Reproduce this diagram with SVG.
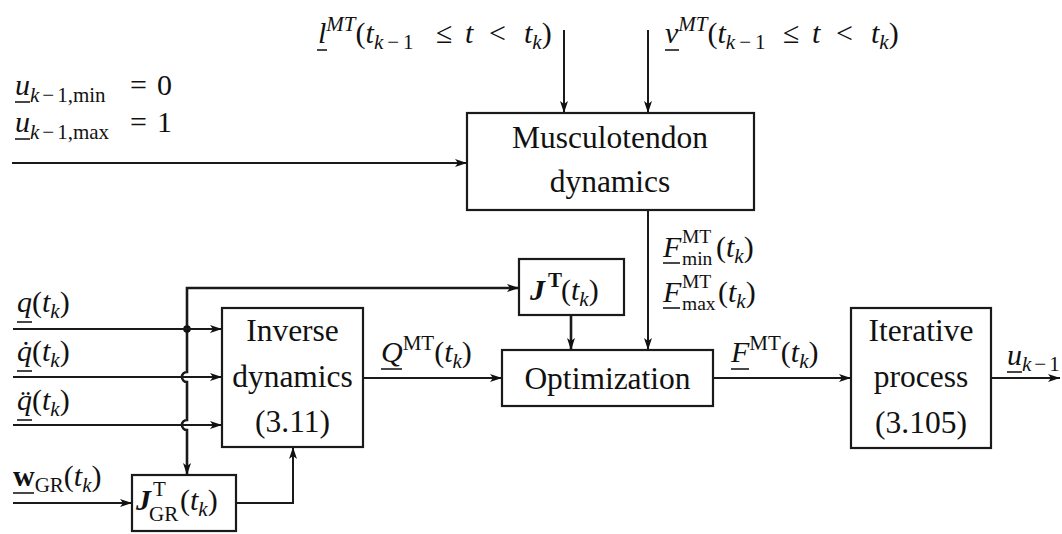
<svg xmlns="http://www.w3.org/2000/svg" width="1062" height="534" viewBox="0 0 1062 534">
<defs>
<marker id="ah" viewBox="0 0 12 8" refX="12" refY="4" markerWidth="12" markerHeight="8" markerUnits="userSpaceOnUse" orient="auto">
<path d="M0,0 L12,4 L0,8 L3,4 z" fill="#111"/>
</marker>
<style>
.box{fill:none;stroke:#1a1a1a;stroke-width:2.2}
.ln{fill:none;stroke:#1a1a1a;stroke-width:2}
.bus{fill:none;stroke:#1a1a1a;stroke-width:2.6}
.ul{stroke:#1a1a1a;stroke-width:1.6}
.t{font-family:'Liberation Serif','Times New Roman','DejaVu Serif',serif;font-size:30px;fill:#111}
.bt{font-size:31.5px}
.i{font-style:italic}
.s{font-size:21px}
.ss{font-size:19.5px}
.bi{font-weight:bold;font-style:italic}
.b{font-weight:bold}
</style>
</defs>
<rect width="1062" height="534" fill="#fff"/>

<g id="connectors">
<path class="ln" d="M564,30 V113" marker-end="url(#ah)"/>
<path class="ln" d="M648,30 V113" marker-end="url(#ah)"/>
<path class="ln" d="M12,163 H467" marker-end="url(#ah)"/>
<path class="ln" d="M648,210 V350" marker-end="url(#ah)"/>
<path class="bus" d="M571,315 V350" marker-end="url(#ah)"/>
<path class="bus" d="M187,329 V288 H519" marker-end="url(#ah)"/>
<path class="bus" d="M187,329 V372 a5,5 0 0 0 0,10 V420 a5,5 0 0 0 0,10 V475" marker-end="url(#ah)"/>
<circle cx="187" cy="329" r="3.8" fill="#111"/>
<path class="ln" d="M13,329 H222" marker-end="url(#ah)"/>
<path class="ln" d="M13,377 H222" marker-end="url(#ah)"/>
<path class="ln" d="M13,425 H222" marker-end="url(#ah)"/>
<path class="ln" d="M13,503 H132" marker-end="url(#ah)"/>
<path class="ln" d="M236,503 H293 V447" marker-end="url(#ah)"/>
<path class="ln" d="M363,378 H502" marker-end="url(#ah)"/>
<path class="ln" d="M713,378 H851" marker-end="url(#ah)"/>
<path class="ln" d="M991,378 H1060" marker-end="url(#ah)"/>
</g>

<g id="musculotendon">
<rect class="box" x="467" y="113" width="287" height="97"/>
<text class="t bt" x="610" y="148" text-anchor="middle">Musculotendon</text>
<text class="t bt" x="610" y="192" text-anchor="middle">dynamics</text>
</g>

<g id="jt">
<rect class="box" x="519" y="259" width="105" height="56"/>
<text class="t"><tspan class="bi" x="530" y="300">J</tspan><tspan class="s b" x="548" y="287">T</tspan><tspan x="561" y="300">(</tspan><tspan class="i">t</tspan><tspan class="s i" dy="6">k</tspan><tspan dy="-6">)</tspan></text>
</g>

<g id="optimization">
<rect class="box" x="502" y="350" width="211" height="56"/>
<text class="t bt" x="607.5" y="389" text-anchor="middle">Optimization</text>
</g>

<g id="inverse">
<rect class="box" x="222" y="308" width="141" height="139"/>
<text class="t bt" x="292.5" y="341" text-anchor="middle">Inverse</text>
<text class="t bt" x="292.5" y="387" text-anchor="middle">dynamics</text>
<text class="t bt" x="292.5" y="432" text-anchor="middle">(3.11)</text>
</g>

<g id="iterative">
<rect class="box" x="851" y="308" width="140" height="140"/>
<text class="t bt" x="921" y="341" text-anchor="middle">Iterative</text>
<text class="t bt" x="921" y="387" text-anchor="middle">process</text>
<text class="t bt" x="921" y="433" text-anchor="middle">(3.105)</text>
</g>

<g id="jgr">
<rect class="box" x="132" y="475" width="104" height="56"/>
<text class="t"><tspan class="bi" x="136" y="510">J</tspan><tspan class="s" x="153" y="496">T</tspan><tspan class="s" x="149" y="521">GR</tspan><tspan x="180" y="510">(</tspan><tspan class="i">t</tspan><tspan class="s i" dy="6">k</tspan><tspan dy="-6">)</tspan></text>
</g>

<g id="labels">
<text class="t"><tspan class="i" x="318" y="43">l</tspan><tspan class="s i" dy="-12">MT</tspan><tspan dy="12">(</tspan><tspan class="i">t</tspan><tspan class="s i" dy="6">k</tspan><tspan class="s" dx="4">−</tspan><tspan class="s" dx="4">1</tspan><tspan x="436" y="43">≤</tspan><tspan class="i" x="465">t</tspan><tspan x="489">&lt;</tspan><tspan class="i" x="524">t</tspan><tspan class="s i" dy="6">k</tspan><tspan dy="-6">)</tspan></text>
<line class="ul" x1="317" y1="50" x2="327" y2="50"/>
<text class="t"><tspan class="i" x="665" y="43">v</tspan><tspan class="s i" dy="-12">MT</tspan><tspan dy="12">(</tspan><tspan class="i">t</tspan><tspan class="s i" dy="6">k</tspan><tspan class="s" dx="4">−</tspan><tspan class="s" dx="4">1</tspan><tspan x="783" y="43">≤</tspan><tspan class="i" x="812">t</tspan><tspan x="836">&lt;</tspan><tspan class="i" x="871">t</tspan><tspan class="s i" dy="6">k</tspan><tspan dy="-6">)</tspan></text>
<line class="ul" x1="665" y1="50" x2="679" y2="50"/>
<text class="t"><tspan class="i" x="15" y="95">u</tspan><tspan class="s i" dy="7">k</tspan><tspan class="s" dx="3">−</tspan><tspan class="s" dx="3">1,min</tspan><tspan x="130" y="95">=</tspan><tspan x="157">0</tspan></text>
<line class="ul" x1="15" y1="102" x2="30" y2="102"/>
<text class="t"><tspan class="i" x="15" y="132">u</tspan><tspan class="s i" dy="7">k</tspan><tspan class="s" dx="3">−</tspan><tspan class="s" dx="3">1,max</tspan><tspan x="130" y="132">=</tspan><tspan x="157">1</tspan></text>
<line class="ul" x1="15" y1="139" x2="30" y2="139"/>
<text class="t"><tspan class="i" x="17" y="312">q</tspan><tspan>(</tspan><tspan class="i">t</tspan><tspan class="s i" dy="6">k</tspan><tspan dy="-6">)</tspan></text>
<line class="ul" x1="17" y1="322" x2="32" y2="322"/>
<text class="t"><tspan class="i" x="17" y="361">q̇</tspan><tspan>(</tspan><tspan class="i">t</tspan><tspan class="s i" dy="6">k</tspan><tspan dy="-6">)</tspan></text>
<line class="ul" x1="17" y1="371" x2="32" y2="371"/>
<text class="t"><tspan class="i" x="17" y="410">q̈</tspan><tspan>(</tspan><tspan class="i">t</tspan><tspan class="s i" dy="6">k</tspan><tspan dy="-6">)</tspan></text>
<line class="ul" x1="17" y1="420" x2="32" y2="420"/>
<text class="t"><tspan class="b" x="13" y="486">w</tspan><tspan class="s" dy="6">GR</tspan><tspan dy="-6">(</tspan><tspan class="i">t</tspan><tspan class="s i" dy="6">k</tspan><tspan dy="-6">)</tspan></text>
<line class="ul" x1="13" y1="493" x2="34" y2="493"/>
<text class="t"><tspan class="i" x="381" y="362">Q</tspan><tspan class="s" dy="-12">MT</tspan><tspan dy="12">(</tspan><tspan class="i">t</tspan><tspan class="s i" dy="6">k</tspan><tspan dy="-6">)</tspan></text>
<line class="ul" x1="381" y1="369" x2="402" y2="369"/>
<text class="t"><tspan class="i" x="663" y="257">F</tspan><tspan class="ss" x="682" y="243">MT</tspan><tspan class="ss" x="682" y="265">min</tspan><tspan x="716" y="257">(</tspan><tspan class="i">t</tspan><tspan class="s i" dy="6">k</tspan><tspan dy="-6">)</tspan></text>
<line class="ul" x1="663" y1="263" x2="680" y2="263"/>
<text class="t"><tspan class="i" x="663" y="302">F</tspan><tspan class="ss" x="682" y="288">MT</tspan><tspan class="ss" x="682" y="310">max</tspan><tspan x="718" y="302">(</tspan><tspan class="i">t</tspan><tspan class="s i" dy="6">k</tspan><tspan dy="-6">)</tspan></text>
<line class="ul" x1="663" y1="308" x2="680" y2="308"/>
<text class="t"><tspan class="i" x="731" y="362">F</tspan><tspan class="s" dy="-12">MT</tspan><tspan dy="12">(</tspan><tspan class="i">t</tspan><tspan class="s i" dy="6">k</tspan><tspan dy="-6">)</tspan></text>
<line class="ul" x1="731" y1="369" x2="749" y2="369"/>
<text class="t"><tspan class="i" x="1007" y="365">u</tspan><tspan class="s i" dy="6">k</tspan><tspan class="s" dx="3">−</tspan><tspan class="s" dx="3">1</tspan></text>
<line class="ul" x1="1007" y1="372" x2="1022" y2="372"/>
</g>
</svg>
